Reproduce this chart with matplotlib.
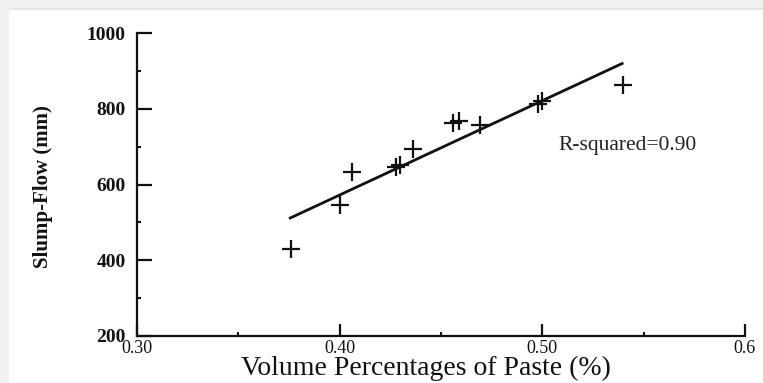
import matplotlib
matplotlib.use("Agg")
import matplotlib.pyplot as plt
from matplotlib.patches import Rectangle
from matplotlib.ticker import MultipleLocator, FixedLocator

# Data
paste_pct = [0.376, 0.400, 0.406, 0.428, 0.430, 0.436, 0.456, 0.459, 0.469, 0.498, 0.500, 0.540]
slump_flow = [430, 545, 632, 645, 652, 695, 762, 768, 758, 812, 820, 863]
fit_x = [0.375, 0.540]
fit_y = [510, 921]
x_ticks = [0.30, 0.40, 0.50, 0.60]
x_ticklabels = ["0.30", "0.40", "0.50", "0.6"]
y_ticks = [200, 400, 600, 800, 1000]
annotation = "R-squared=0.90"

serif = ["Liberation Serif", "DejaVu Serif"]
plt.rcParams["font.family"] = serif

fig = plt.figure(figsize=(7.63, 3.83), dpi=100)
fig.patch.set_facecolor("white")

# light gray screenshot borders
fig.patches.append(Rectangle((0, 1 - 10/383), 1, 10/383, transform=fig.transFigure,
                             facecolor="#f1f1f1", edgecolor="none", zorder=0))
fig.patches.append(Rectangle((0, 1 - 10/383), 1, 2/383, transform=fig.transFigure,
                             facecolor="#e6e6e6", edgecolor="none", zorder=0))
fig.patches.append(Rectangle((0, 0), 9/763, 1, transform=fig.transFigure,
                             facecolor="#f1f1f1", edgecolor="none", zorder=0))

ax = fig.add_axes([137/763, 1 - 336/383, (745 - 137)/763, (336 - 33)/383])
ax.set_facecolor("none")

ax.plot(paste_pct, slump_flow, linestyle="none", marker="+", markersize=13,
        markeredgewidth=1.6, color="#111111")
ax.plot(fit_x, fit_y, color="#111111", linewidth=2.0, solid_capstyle="butt")

ax.set_xlim(0.30, 0.60)
ax.set_ylim(200, 1000)

ax.spines["top"].set_visible(False)
ax.spines["right"].set_visible(False)
for s in ("left", "bottom"):
    ax.spines[s].set_linewidth(1.6)
    ax.spines[s].set_color("#111111")

ax.xaxis.set_major_locator(FixedLocator(x_ticks))
ax.set_xticklabels(x_ticklabels)
ax.xaxis.set_minor_locator(MultipleLocator(0.05))
ax.yaxis.set_major_locator(FixedLocator(y_ticks))
ax.yaxis.set_minor_locator(MultipleLocator(100))

ax.tick_params(axis="y", which="major", direction="in", length=11, width=1.6,
               labelsize=14, pad=8, colors="#111111")
ax.tick_params(axis="y", which="minor", direction="in", length=3, width=1.5, color="#111111")
ax.tick_params(axis="x", which="major", direction="in", length=9, width=1.6,
               labelsize=13, pad=3, colors="#111111")
ax.tick_params(axis="x", which="minor", direction="in", length=3, width=1.5, color="#111111")
for lab in ax.get_yticklabels():
    lab.set_fontweight("bold")

ax.text(0.508, 702, annotation, fontsize=15.5, color="#222222",
        va="center", ha="left")

fig.text(43/763, 1 - 187/383, "Slump-Flow (mm)", rotation=90, fontsize=15,
         fontweight="bold", ha="center", va="center", color="#111111")
fig.text(426/763, 1 - 375/383, "Volume Percentages of Paste (%)", fontsize=20,
         ha="center", va="baseline", color="#111111")

fig.savefig("out.png", dpi=100, facecolor=fig.get_facecolor())
